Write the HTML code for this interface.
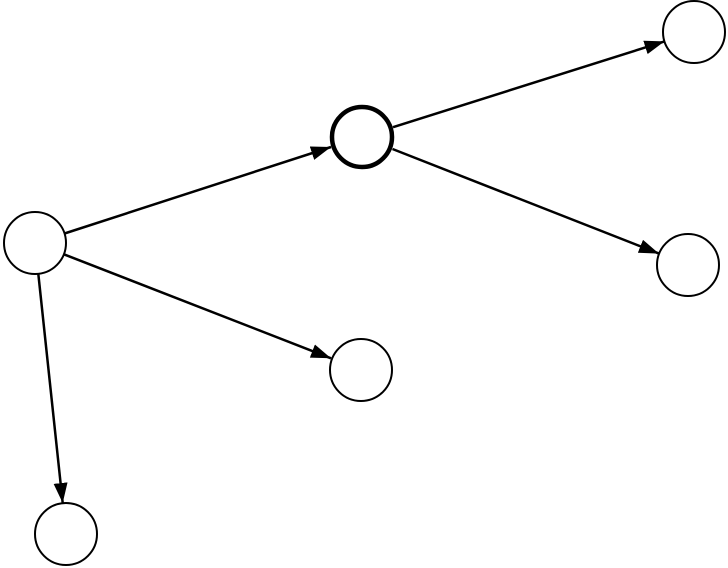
<!DOCTYPE html>
<html><head><meta charset="utf-8"><style>html,body{margin:0;padding:0;background:#fff;}svg{display:block}</style></head>
<body>
<svg width="728" height="568" viewBox="0 0 728 568" xmlns="http://www.w3.org/2000/svg">
<defs>
<marker id="a" markerUnits="userSpaceOnUse" markerWidth="22" markerHeight="16" refX="20" refY="7" orient="auto">
<polygon points="0,0 20,7 0,14" fill="#000"/>
</marker>
</defs>
<g stroke="#000" stroke-width="2.5" fill="none">
<line x1="64.5" y1="233.5" x2="331" y2="147" marker-end="url(#a)"/>
<line x1="63.9" y1="254.3" x2="331" y2="358.3" marker-end="url(#a)"/>
<line x1="38.3" y1="273.8" x2="62.7" y2="503" marker-end="url(#a)"/>
<line x1="393" y1="127.2" x2="664.5" y2="41.4" marker-end="url(#a)"/>
<line x1="392.5" y1="149" x2="659" y2="253.6" marker-end="url(#a)"/>
</g>
<g fill="#fff" stroke="#000" stroke-width="2">
<circle cx="35" cy="243" r="31"/>
<circle cx="694" cy="32" r="31"/>
<circle cx="688" cy="265" r="31"/>
<circle cx="361" cy="370" r="31"/>
<circle cx="66" cy="534" r="31"/>
<circle cx="362" cy="137" r="30" stroke-width="4.5"/>
</g>
</svg>
</body></html>
